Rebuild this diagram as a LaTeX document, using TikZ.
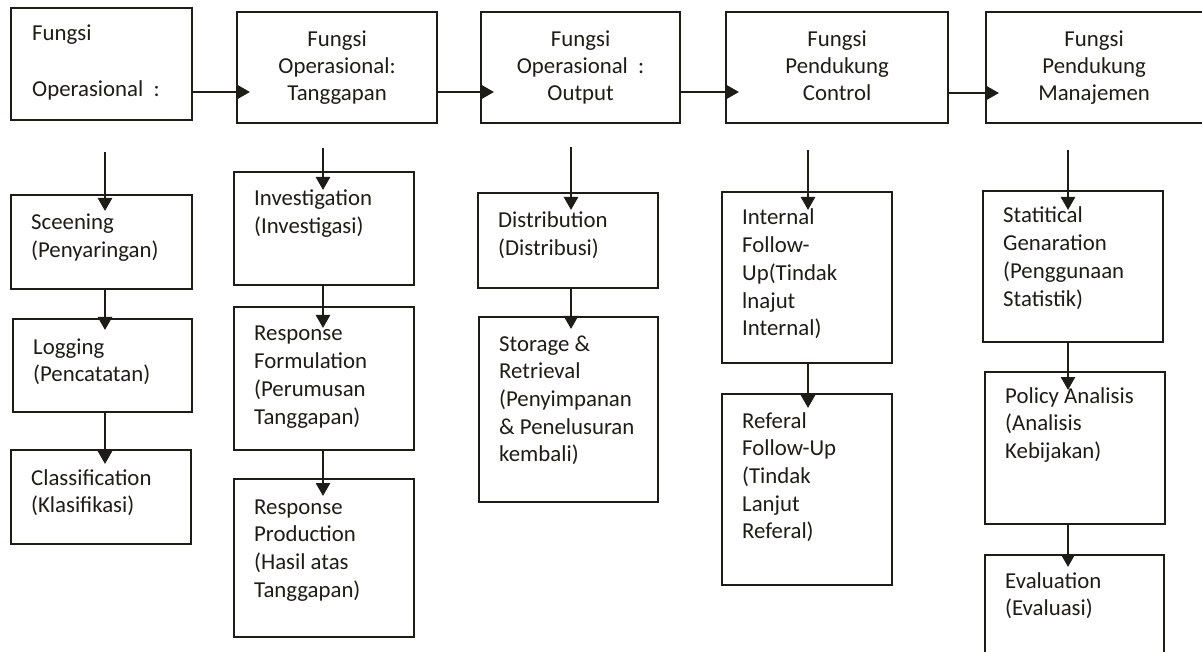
\documentclass[tikz,border=0pt]{standalone}
\usepackage{fontspec}
\setmainfont{Carlito}
\usetikzlibrary{arrows.meta}
\definecolor{ink}{RGB}{30,28,22}
\tikzset{
  x=1pt, y=-1pt,
  box/.style={draw=ink, line width=2.2pt, inner sep=0pt, anchor=north west},
  lbl/.style={inner sep=0pt, anchor=base west, text=ink},
  ctr/.style={inner sep=0pt, anchor=base, text=ink},
  arr/.style={draw=ink, line width=2.6pt, -{Triangle[length=13pt,width=14pt]}},
}
% box with its upper-left corner at (#2,#3), size #4 x #5
\newcommand{\boxat}[5]{%
  \node[box, minimum width=#4pt, minimum height=#5pt] (#1) at (#2,#3) {};}
% left-aligned text block below the top-left corner of a box
\newcommand{\boxtext}[3]{%
  \node[lbl] (#1-t) at ([xshift=21pt,yshift=-#2pt]#1.north west)
    {\fontsize{22.8}{27.7}\selectfont\parbox[t]{170pt}{\raggedright #3}};}
% centred text block below the top edge of a box
\newcommand{\toptext}[3]{%
  \node[ctr] (#1-t) at ([xshift=#2pt,yshift=-36pt]#1.north)
    {\fontsize{22.8}{27}\selectfont\parbox[t]{200pt}{\centering #3}};}
\begin{document}
\begin{tikzpicture}
\useasboundingbox (0,0) rectangle (1202,652);

% ---- top row ----
\boxat{t1}{10}{7}{181}{112}
\node[lbl] (t1-t) at ([xshift=22pt,yshift=-34pt]t1.north west)
  {\fontsize{22.8}{28}\selectfont\parbox[t]{160pt}{Fungsi\\[28pt]Operasional\ \ :}};
\boxat{t2}{236}{11}{200}{111}
\toptext{t2}{0}{Fungsi\\Operasional:\\Tanggapan}
\boxat{t3}{480}{11}{199}{111}
\toptext{t3}{0}{Fungsi\\Operasional\ \ :\\Output}
\boxat{t4}{725}{11}{222}{111}
\toptext{t4}{0}{Fungsi\\Pendukung\\Control}
\boxat{t5}{985}{11}{230}{111}
\toptext{t5}{-7}{Fungsi\\Pendukung\\Manajemen}

\coordinate (h) at (0,92);
\draw[arr, shorten >=-14pt] (t1.east |- h) -- (t2.west |- h);
\draw[arr, shorten >=-14pt] (t2.east |- h) -- (t3.west |- h);
\draw[arr, shorten >=-14pt] (t3.east |- h) -- (t4.west |- h);
\draw[arr, shorten >=-14pt] (t4.east |- 0,93) -- (t5.west |- 0,93);

% ---- column 1 ----
\boxat{a1}{10}{194}{181}{94}
\boxtext{a1}{36}{Sceening\\(Penyaringan)}
\boxat{a2}{12}{318}{179}{93}
\boxtext{a2}{36}{Logging\\(Pencatatan)}
\boxat{a3}{10}{449}{180}{94}
\boxtext{a3}{36}{Classification\\(Klasifikasi)}
\coordinate (c1) at (105,152);
\draw[arr, shorten >=-17pt] (c1) -- (c1 |- a1.north);
\draw[arr, shorten >=-12pt] (c1 |- a1.south) -- (c1 |- a2.north);
\draw[arr, shorten >=-15pt] (c1 |- a2.south) -- (c1 |- a3.north);

% ---- column 2 ----
\boxat{b1}{233}{171}{180}{113}
\boxtext{b1}{35}{Investigation\\(Investigasi)}
\boxat{b2}{233}{306}{180}{143}
\boxtext{b2}{35}{Response\\Formulation\\(Perumusan\\Tanggapan)}
\boxat{b3}{233}{478}{180}{158}
\boxtext{b3}{36}{Response\\Production\\(Hasil atas\\Tanggapan)}
\coordinate (c2) at (323,148);
\draw[arr, shorten >=-19pt] (c2) -- (c2 |- b1.north);
\draw[arr, shorten >=-22pt] (c2 |- b1.south) -- (c2 |- b2.north);
\draw[arr, shorten >=-18pt] (c2 |- b2.south) -- (c2 |- b3.north);

% ---- column 3 ----
\boxat{d1}{477}{192}{180}{95}
\boxtext{d1}{36}{Distribution\\(Distribusi)}
\boxat{d2}{478}{316}{179}{185}
\boxtext{d2}{35}{Storage \&\\Retrieval\\(Penyimpanan\\\& Penelusuran\\kembali)}
\coordinate (c3) at (571,147);
\draw[arr, shorten >=-18pt] (c3) -- (c3 |- d1.north);
\draw[arr, shorten >=-13pt] (c3 |- d1.south) -- (c3 |- d2.north);

% ---- column 4 ----
\boxat{e1}{721}{191}{170}{171}
\boxtext{e1}{34}{Internal\\Follow-\\Up(Tindak\\lnajut\\Internal)}
\boxat{e2}{721}{393}{170}{191}
\boxtext{e2}{35}{Referal\\Follow-Up\\(Tindak\\Lanjut\\Referal)}
\coordinate (c4) at (808,150);
\draw[arr, shorten >=-19pt] (c4) -- (c4 |- e1.north);
\draw[arr, shorten >=-15pt] (c4 |- e1.south) -- (c4 |- e2.north);

% ---- column 5 ----
\boxat{f1}{982}{190}{180}{151}
\boxtext{f1}{33}{Statitical\\Genaration\\(Penggunaan\\Statistik)}
\boxat{f2}{984}{371}{180}{152}
\boxtext{f2}{32}{Policy Analisis\\(Analisis\\Kebijakan)}
\begin{scope}
  \clip (0,0) rectangle (1202,652);
  \boxat{f3}{984}{554}{179}{120}
\end{scope}
\boxtext{f3}{34}{Evaluation\\(Evaluasi)}
\coordinate (c5) at (1068,150);
\draw[arr, shorten >=-20pt] (c5) -- (c5 |- f1.north);
\draw[arr, shorten >=-19pt] (c5 |- f1.south) -- (c5 |- f2.north);
\draw[arr, shorten >=-13pt] (c5 |- f2.south) -- (c5 |- f3.north);
\end{tikzpicture}
\end{document}
